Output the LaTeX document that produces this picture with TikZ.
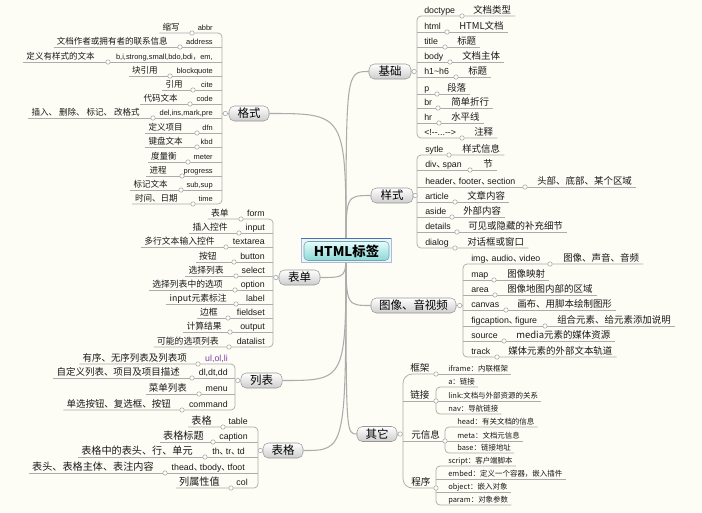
\documentclass[tikz,border=0pt]{standalone}
\usepackage{fontspec}
\setmainfont{Liberation Sans}
\newfontfamily\cjk{Noto Sans CJK SC}
\usetikzlibrary{calc}
\pgfdeclarelayer{bglayer}
\pgfsetlayers{bglayer,main}
\definecolor{bgc}{RGB}{253,253,246}
\definecolor{lnc}{RGB}{172,172,172}
\definecolor{txc}{RGB}{25,25,25}
\definecolor{purc}{RGB}{125,60,165}
\definecolor{brd}{RGB}{150,150,150}
\definecolor{brb}{RGB}{205,205,205}
\definecolor{cbord}{RGB}{165,190,220}
\definecolor{cfill}{RGB}{238,244,250}
\definecolor{cbar}{RGB}{70,115,185}
\definecolor{cinb}{RGB}{115,165,170}
\definecolor{cint}{RGB}{228,252,252}
\definecolor{cinl}{RGB}{140,215,215}
\newcommand\tagdun{{\cjk 、}\kern-0.3em}
\newcommand\Lrow[7]{%
  \node[curtag,anchor=base east] (#1) at (#3,#2-3) {#4};
  \node[curdesc,anchor=base east] (#1-d) at (#6,#2-3) {#7};
  \coordinate (#1-c) at (#5,#2);
  \coordinate (#1-l) at ($(#1-d.base west)+(-3,3)$);}
\newcommand\Rrow[7]{%
  \node[curtag,anchor=base west] (#1) at (#3,#2-3) {#4};
  \node[curdesc,anchor=base west] (#1-d) at (#6,#2-3) {#7};
  \coordinate (#1-c) at (#5,#2);
  \coordinate (#1-l) at ($(#1-d.base east)+(4,3)$);}
\newcommand\Crow[4]{%
  \node[child,anchor=base west] (#1) at (#3,#2-2.5) {#4};
  \coordinate (#1-l) at ($(#1.base east)+(3,2.5)$);}
\tikzset{
  tag/.style={inner sep=0pt, text=txc, font=\fontsize{6.6}{7}\selectfont},
  tagS/.style={inner sep=0pt, text=txc, font=\fontsize{5.6}{6}\selectfont},
  desc/.style={inner sep=0pt, text=txc, font=\cjk\fontsize{7.1}{8}\selectfont},
  descS/.style={inner sep=0pt, text=txc, font=\cjk\fontsize{6.4}{7}\selectfont},
  descM/.style={inner sep=0pt, text=txc, font=\cjk\fontsize{6.6}{7}\selectfont},
  descL/.style={inner sep=0pt, text=txc, font=\cjk\fontsize{7.6}{8}\selectfont},
  curtag/.style={tag}, curdesc/.style={desc},
  child/.style={inner sep=0pt, text=txc, font=\cjk\fontsize{5.6}{6}\selectfont},
  subhead/.style={inner sep=0pt, text=txc, font=\cjk\fontsize{7.2}{8}\selectfont},
  sub/.style={draw=lnc, line width=0.55pt},
  trunk/.style={draw=lnc, line width=0.8pt},
  knob/.style={circle, draw=lnc, fill=white, line width=0.45pt, inner sep=0pt, minimum size=3.3pt},
  branch/.style={draw=brd, rounded corners=4pt, top color=white, bottom color=brb,
    minimum height=11.25pt, inner sep=0pt, text=black, font=\cjk\fontsize{8.6}{9}\selectfont},
}
\begin{document}
\begin{tikzpicture}[x=0.75pt,y=-0.75pt]
\useasboundingbox (0,0) rectangle (702,512);
% ---------- centre ----------
\node[draw=cbord, fill=cfill, minimum width=67.5pt, minimum height=18pt, inner sep=0pt] (root) at (346,250) {};
\fill[cbar] (root.north west) rectangle ($(root.north east)+(0,1.6)$);
\node[draw=cinb, rounded corners=3pt, top color=cint, bottom color=cinl, minimum width=63.75pt,
  minimum height=14.25pt, inner sep=0pt, font=\cjk\bfseries\fontsize{10}{12}\selectfont] (rootlabel) at (346.5,251) {HTML标签};
% ---------- branch nodes ----------
\node[branch, minimum width=30pt] (gs) at (249,113.5) {格式};
\node[branch, minimum width=30.75pt] (bd) at (299.5,277.5) {表单};
\node[branch, minimum width=31pt] (lbd) at (261.5,380.5) {列表};
\node[branch, minimum width=30pt] (tbd) at (283,450.5) {表格};
\node[branch, minimum width=31.5pt] (jbd) at (390,71.5) {基础};
\node[branch, minimum width=31.5pt] (sbd) at (392,195.5) {样式};
\node[branch, minimum width=63.75pt] (mbd) at (413.5,305.5) {图像、音视频};
\node[branch, minimum width=30pt] (qt) at (377,434) {其它};
\begin{pgfonlayer}{bglayer}
\fill[bgc] (0,0) rectangle (702,512);
\foreach \n in {gs,bd,lbd,tbd}
  \draw[trunk] (root.center) .. controls (root.center |- \n) .. (\n.east);
\foreach \n in {jbd,sbd,mbd,qt}
  \draw[trunk] (root.center) .. controls (root.center |- \n) .. (\n.west);
\end{pgfonlayer}
% ---------- 格式 ----------
\begin{scope}[curtag/.style={tagS},curdesc/.style={descS}]
\Lrow{f1}{33}{213}{abbr}{192}{180}{缩写}
\Lrow{f2}{47}{213}{address}{180}{168}{文档作者或拥有者的联系信息}
\Lrow{f3}{62}{213}{b,i,strong,small,bdo,bdi{\cjk ，}em,}{108}{95}{定义有样式的文本}
\Lrow{f4}{76}{213}{blockquote}{170}{158}{块引用}
\Lrow{f5}{90}{213}{cite}{193}{183}{引用}
\Lrow{f6}{104}{213}{code}{190}{178}{代码文本}
\Lrow{f7}{118}{213}{del,ins,mark,pre}{153}{140}{插入、 删除、 标记、 改格式}
\Lrow{f8}{133}{213}{dfn}{197}{183}{定义项目}
\Lrow{f9}{147}{213}{kbd}{197}{183}{键盘文本}
\Lrow{f10}{162}{213}{meter}{188}{177}{度量衡}
\Lrow{f11}{176}{213}{progress}{182}{167}{进程}
\Lrow{f12}{190}{213}{sub,sup}{181}{168}{标记文本}
\Lrow{f13}{204}{213}{time}{193}{178}{时间、日期}
\end{scope}
\coordinate (fb) at (222,113.5);
\draw[sub,rounded corners=3pt] (f1-l) -- (f1-l -| fb) -- (f13-l -| fb) -- (f13-l);
\foreach \i in {2,...,12} \draw[sub] (f\i-l) -- (f\i-l -| fb);
\draw[sub] (fb) -- (gs.west);
\foreach \i in {1,...,13} \node[knob] at (f\i-c) {};
\node[knob] at ($(gs.west)!0.5!(fb)$) {};
% ---------- 表单 ----------
\begin{scope}[curdesc/.style={descM}]
\Lrow{b1}{219}{265}{form}{241}{229}{表单}
\Lrow{b2}{233}{265}{input}{239}{228}{插入控件}
\Lrow{b3}{247}{265}{textarea}{226}{215}{多行文本输入控件}
\Lrow{b4}{262}{265}{button}{234}{217}{按钮}
\Lrow{b5}{276}{265}{select}{236}{224}{选择列表}
\Lrow{b6}{290}{265}{option}{235}{223}{选择列表中的选项}
\Lrow{b7}{304}{265}{label}{236}{227}{input元素标注}
\Lrow{b8}{318}{265}{fieldset}{228}{218}{边框}
\Lrow{b9}{332}{265}{output}{230}{222}{计算结果}
\Lrow{b10}{347}{265}{datalist}{229}{219}{可能的选项列表}
\end{scope}
\coordinate (bb) at (273,277.5);
\draw[sub,rounded corners=3pt] (b1-l) -- (b1-l -| bb) -- (b10-l -| bb) -- (b10-l);
\foreach \i in {2,...,9} \draw[sub] (b\i-l) -- (b\i-l -| bb);
\draw[sub] (bb) -- (bd.west);
\foreach \i in {1,...,10} \node[knob] at (b\i-c) {};
\node[knob] at ($(bd.west)!0.5!(bb)$) {};
% ---------- 列表 ----------
\Lrow{l1}{364}{228}{\textcolor{purc}{ul,ol,li}}{198}{187}{有序、无序列表及列表项}
\Lrow{l2}{378}{228}{dl,dt,dd}{192}{180}{自定义列表、项目及项目描述}
\Lrow{l3}{394}{228}{menu}{199}{187}{菜单列表}
\Lrow{l4}{410}{228}{command}{182}{171}{单选按钮、复选框、按钮}
\coordinate (lb) at (235,380.5);
\draw[sub,rounded corners=3pt] (l1-l) -- (l1-l -| lb) -- (l4-l -| lb) -- (l4-l);
\foreach \i in {2,3} \draw[sub] (l\i-l) -- (l\i-l -| lb);
\draw[sub] (lb) -- (lbd.west);
\foreach \i in {1,...,4} \node[knob] at (l\i-c) {};
\node[knob] at ($(lbd.west)!0.5!(lb)$) {};
% ---------- 表格 ----------
\begin{scope}[curdesc/.style={descL}]
\Lrow{t1}{427}{248}{table}{223}{212}{表格}
\Lrow{t2}{442}{248}{caption}{213}{204}{表格标题}
\Lrow{t3}{457}{245}{th\tagdun tr\tagdun td}{205}{193}{表格中的表头、行、单元}
\Lrow{t4}{473}{245}{thead\tagdun tbody\tagdun tfoot}{165}{154}{表头、表格主体、表注内容}
\Lrow{t5}{488}{248}{col}{231}{220}{列属性值}
\end{scope}
\coordinate (tb) at (258,450.5);
\draw[sub,rounded corners=3pt] (t1-l) -- (t1-l -| tb) -- (t5-l -| tb) -- (t5-l);
\foreach \i in {2,3,4} \draw[sub] (t\i-l) -- (t\i-l -| tb);
\draw[sub] (tb) -- (tbd.west);
\foreach \i in {1,...,5} \node[knob] at (t\i-c) {};
\node[knob] at ($(tbd.west)!0.5!(tb)$) {};
% ---------- 基础 ----------
\Rrow{j1}{16}{424}{doctype}{462}{473}{文档类型}
\Rrow{j2}{32}{424}{html}{447}{459}{HTML文档}
\Rrow{j3}{47}{424}{title}{445}{457}{标题}
\Rrow{j4}{62}{424}{body}{450}{462}{文档主体}
\Rrow{j5}{77}{424}{h1\textasciitilde h6}{456}{468}{标题}
\Rrow{j6}{94}{424}{p}{437}{447}{段落}
\Rrow{j7}{108}{424}{br}{438}{451}{简单折行}
\Rrow{j8}{123}{424}{hr}{439}{451}{水平线}
\Rrow{j9}{138}{424}{<!-{}-...-{}->}{462}{474}{注释}
\coordinate (jb) at (417,71.5);
\draw[sub,rounded corners=3pt] (j1-l) -- (j1-l -| jb) -- (j9-l -| jb) -- (j9-l);
\foreach \i in {2,...,8} \draw[sub] (j\i-l -| jb) -- (j\i-l);
\draw[sub] (jbd.east) -- (jb);
\foreach \i in {1,...,9} \node[knob] at (j\i-c) {};
\node[knob] at ($(jbd.east)!0.5!(jb)$) {};
% ---------- 样式 ----------
\Rrow{s1}{155}{425}{sytle}{449}{462}{样式信息}
\Rrow{s2}{170}{425}{div\tagdun span}{470}{483}{节}
\Rrow{s3}{187}{425}{header\tagdun footer\tagdun section}{525}{537}{头部、底部、某个区域}
\Rrow{s4}{202}{425}{article}{455}{467}{文章内容}
\Rrow{s5}{217}{425}{aside}{452}{463}{外部内容}
\Rrow{s6}{232}{425}{details}{457}{468}{可见或隐藏的补充细节}
\Rrow{s7}{248}{425}{dialog}{455}{467}{对话框或窗口}
\coordinate (sb) at (417,195.5);
\draw[sub,rounded corners=3pt] (s1-l) -- (s1-l -| sb) -- (s7-l -| sb) -- (s7-l);
\foreach \i in {2,...,6} \draw[sub] (s\i-l -| sb) -- (s\i-l);
\draw[sub] (sbd.east) -- (sb);
\foreach \i in {1,...,7} \node[knob] at (s\i-c) {};
\node[knob] at ($(sbd.east)!0.5!(sb)$) {};
% ---------- 图像、音视频 ----------
\Rrow{m1}{264}{471}{img\tagdun audio\tagdun video}{550}{563}{图像、声音、音频}
\Rrow{m2}{280}{471}{map}{494}{507}{图像映射}
\Rrow{m3}{295}{471}{area}{495}{507}{图像地图内部的区域}
\Rrow{m4}{310}{471}{canvas}{506}{517}{画布、用脚本绘制图形}
\Rrow{m5}{326}{471}{figcaption\tagdun figure}{545}{557}{组合元素、给元素添加说明}
\Rrow{m6}{341}{471}{source}{504}{516}{media元素的媒体资源}
\Rrow{m7}{357}{471}{track}{497}{508}{媒体元素的外部文本轨道}
\coordinate (mb) at (463,305.5);
\draw[sub,rounded corners=3pt] (m1-l) -- (m1-l -| mb) -- (m7-l -| mb) -- (m7-l);
\foreach \i in {2,...,6} \draw[sub] (m\i-l -| mb) -- (m\i-l);
\draw[sub] (mbd.east) -- (mb);
\foreach \i in {1,...,7} \node[knob] at (m\i-c) {};
\node[knob] at ($(mbd.east)!0.5!(mb)$) {};
% ---------- 其它 ----------
\coordinate (qb) at (403,434);
\node[subhead,anchor=base west] (kj) at (410,371.5) {框架};
\coordinate (kj-c) at (436,374);
\Crow{kj1}{374}{448}{iframe：内联框架}
\node[subhead,anchor=base west] (lj) at (410,398.5) {链接};
\coordinate (lj-c) at (436,401);
\Crow{lj1}{387}{448}{a：链接}
\Crow{lj2}{401}{448}{link:文档与外部资源的关系}
\Crow{lj3}{414}{448}{nav：导航链接}
\node[subhead,anchor=base west] (yx) at (411,438.5) {元信息};
\coordinate (yx-c) at (445,441);
\Crow{yx1}{427}{457}{head：有关文档的信息}
\Crow{yx2}{441}{457}{meta：文档元信息}
\Crow{yx3}{453}{457}{base：链接地址}
\node[subhead,anchor=base west] (cx) at (411,485.5) {程序};
\coordinate (cx-c) at (436,488);
\Crow{cx1}{466}{448}{script：客户端脚本}
\Crow{cx2}{479}{448}{embed：定义一个容器，嵌入插件}
\Crow{cx3}{492}{448}{object：嵌入对象}
\Crow{cx4}{505}{448}{param：对象参数}
\draw[sub] (qt.east) -- (qb);
\draw[sub,rounded corners=7pt] (kj-c) -- (kj-c -| qb) -- (cx-c -| qb) -- (cx-c);
\draw[sub] (lj-c -| qb) -- (lj-c);
\draw[sub] (yx-c -| qb) -- (yx-c);
\draw[sub] (kj-c) -- (kj1-l);
\draw[sub,rounded corners=3pt] (lj1-l) -- (lj1-l -| lj-c) -- (lj3-l -| lj-c) -- (lj3-l);
\draw[sub] (lj-c) -- (lj2-l);
\draw[sub,rounded corners=3pt] (yx1-l) -- (yx1-l -| yx-c) -- (yx3-l -| yx-c) -- (yx3-l);
\draw[sub] (yx-c) -- (yx2-l);
\draw[sub,rounded corners=3pt] (cx1-l) -- (cx1-l -| cx-c) -- (cx4-l -| cx-c) -- (cx4-l);
\draw[sub] (cx2-l -| cx-c) -- (cx2-l);
\draw[sub] (cx3-l -| cx-c) -- (cx3-l);
\foreach \n in {kj-c,lj-c,yx-c,cx-c} \node[knob] at (\n) {};
\node[knob] at ($(qt.east)!0.5!(qb)$) {};
\end{tikzpicture}
\end{document}
